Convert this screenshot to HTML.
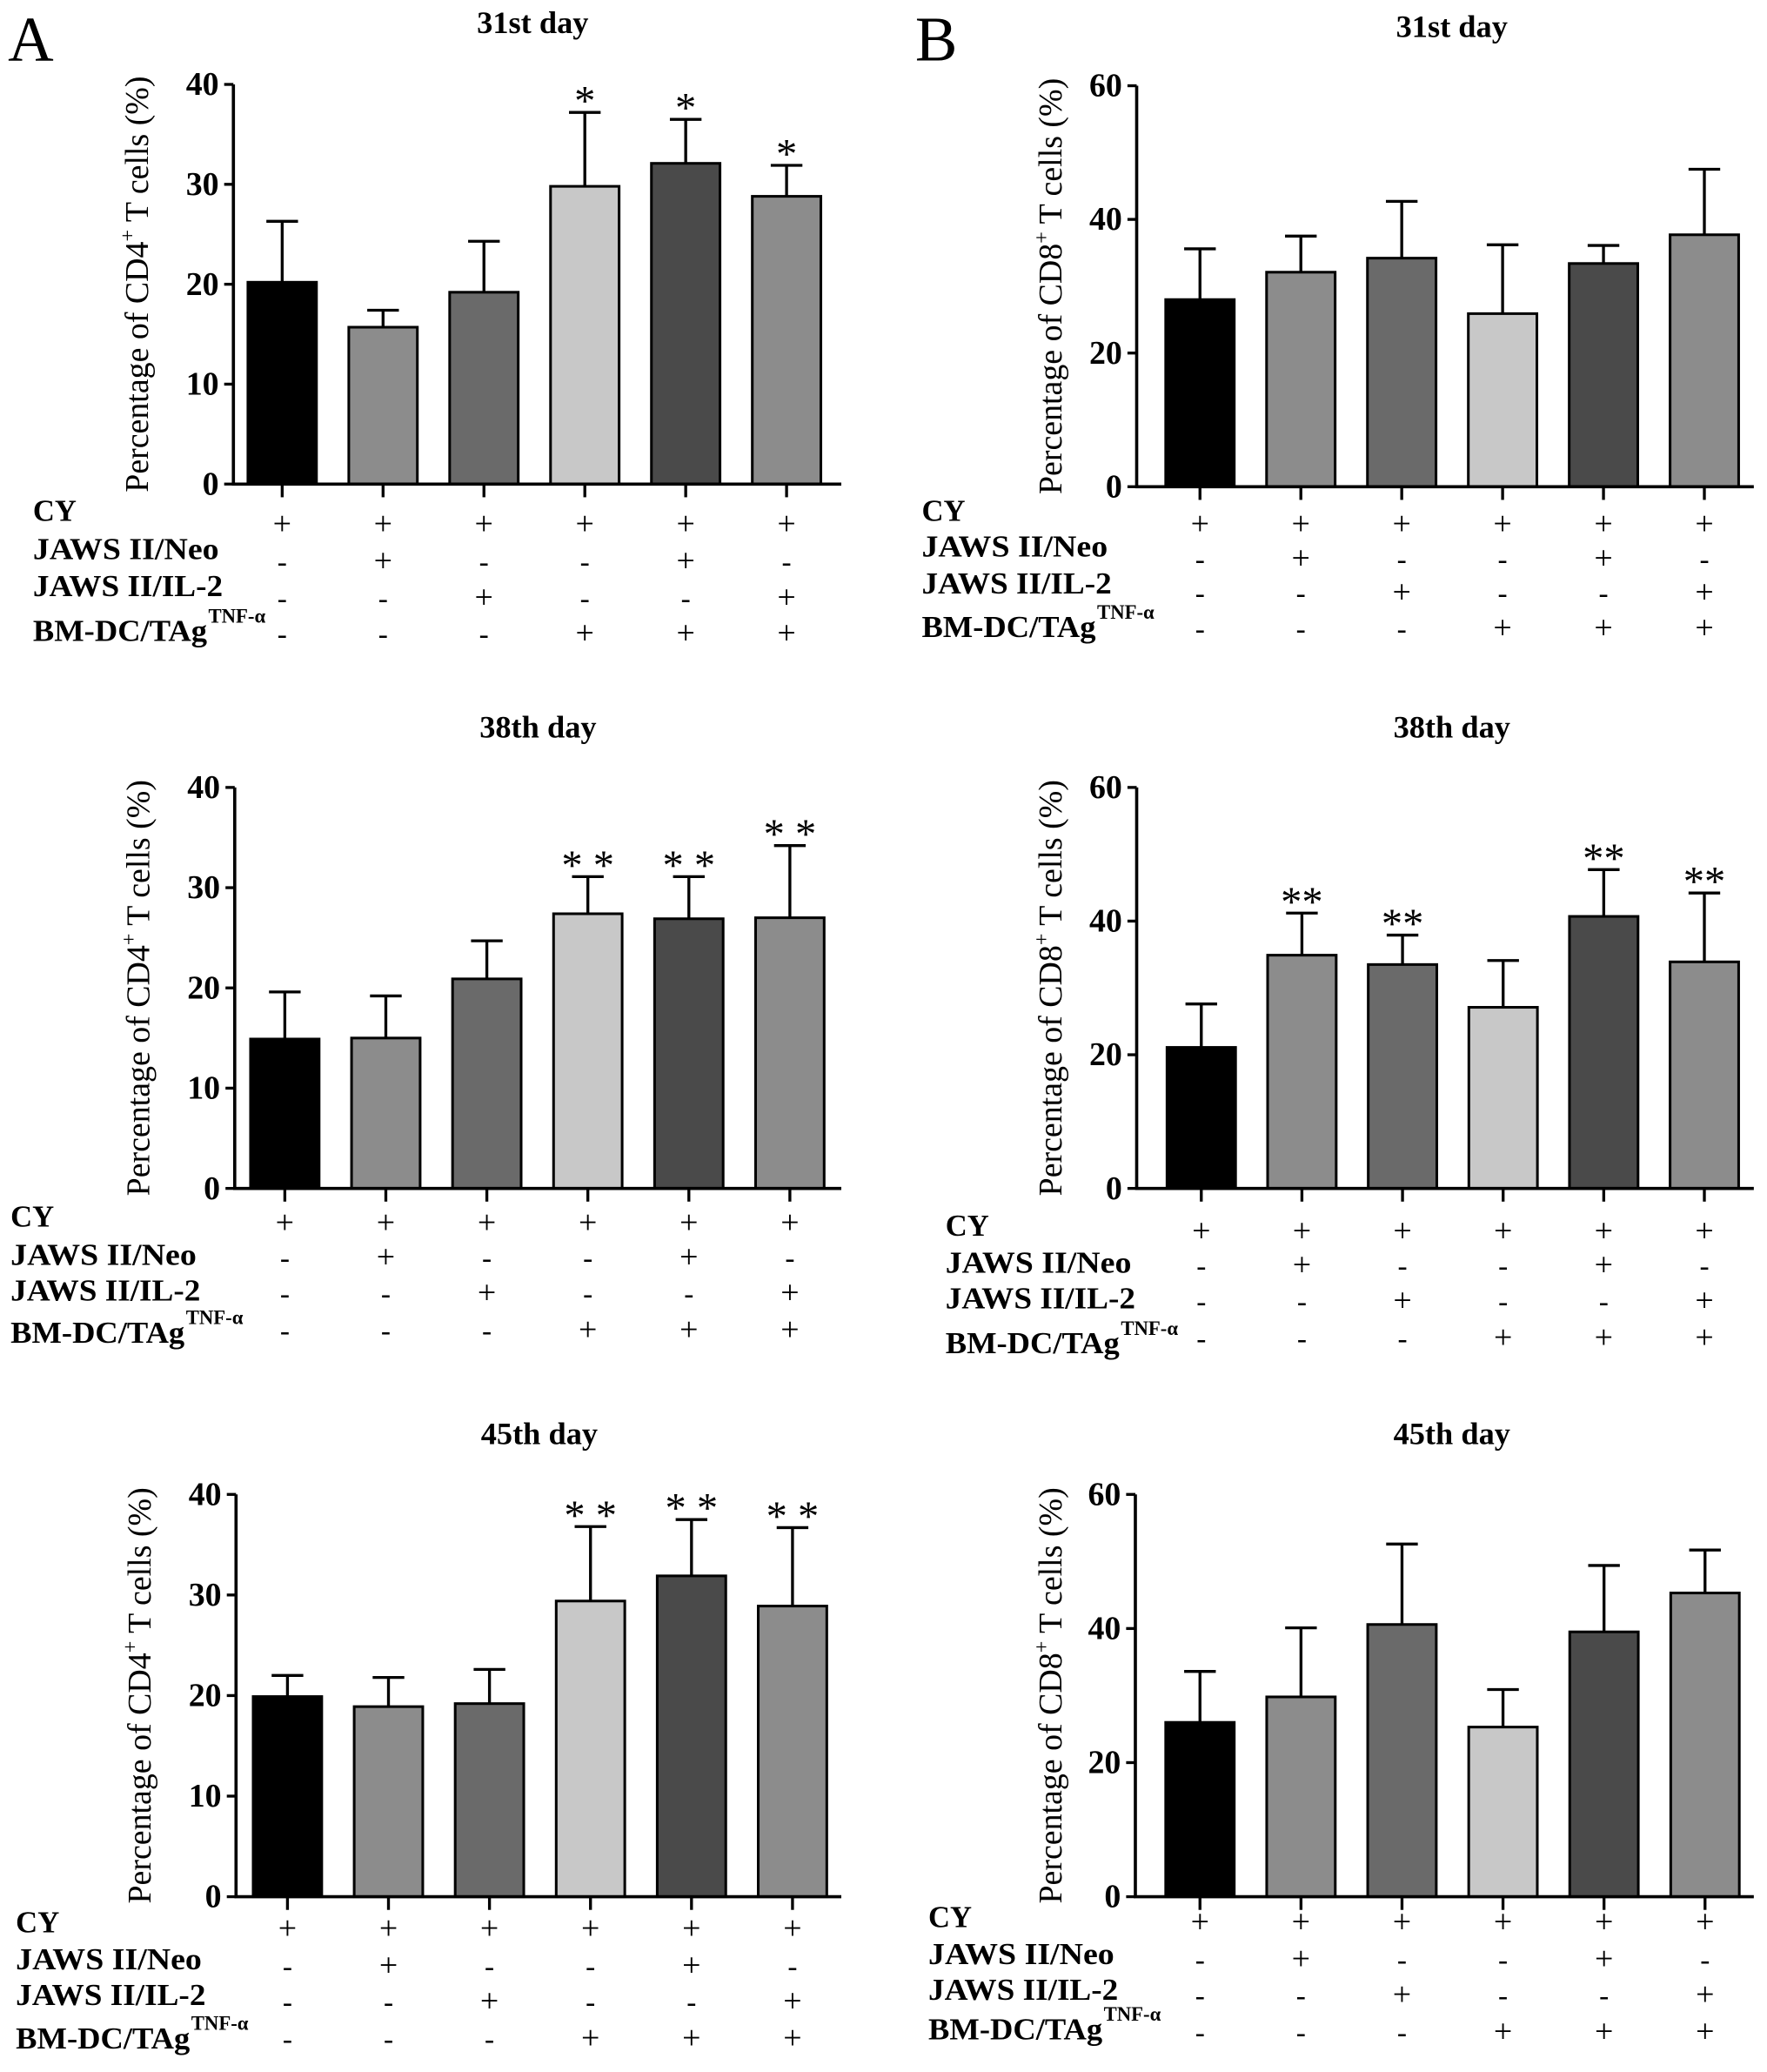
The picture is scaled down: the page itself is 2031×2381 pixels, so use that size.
<!DOCTYPE html>
<html><head><meta charset="utf-8"><style>
html,body{margin:0;padding:0;background:#fff;}
svg, svg text{font-family:"Liberation Serif","DejaVu Serif",serif;}
</style></head><body>
<svg id="fig" width="2031" height="2376" viewBox="0 0 1340 1567.6" preserveAspectRatio="none" xmlns="http://www.w3.org/2000/svg">
<rect width="1340" height="1568" fill="#fff"/>
<text x="6" y="46" font-size="48">A</text>
<text x="694" y="46" font-size="48">B</text>
</svg>
<script>
const groups = ["G1","G2","G3","G4","G5","G6"];
const cy  = ["+","+","+","+","+","+"];
const neo = ["-","+","-","-","+","-"];
const il2 = ["-","-","+","-","-","+"];
const bm  = ["-","-","-","+","+","+"];
const a1Mean = [20.2,15.7,19.2,29.8,32.1,28.8];
const a1Top  = [26.3,17.4,24.3,37.2,36.5,31.9];
const a1Sig  = ["","","","*","*","*"];
const a2Mean = [14.9,15.0,20.9,27.4,26.9,27.0];
const a2Top  = [19.6,19.2,24.7,31.1,31.1,34.2];
const a2Sig  = ["","","","* *","* *","* *"];
const a3Mean = [19.9,18.9,19.2,29.4,31.9,28.9];
const a3Top  = [22.0,21.8,22.6,36.8,37.5,36.7];
const a3Sig  = ["","","","* *","* *","* *"];
const b1Mean = [28.0,32.1,34.2,25.9,33.4,37.7];
const b1Top  = [35.6,37.5,42.7,36.2,36.1,47.5];
const b1Sig  = ["","","","","",""];
const b2Mean = [21.1,34.9,33.5,27.1,40.7,33.9];
const b2Top  = [27.6,41.2,37.9,34.1,47.7,44.2];
const b2Sig  = ["","**","**","","**","**"];
const b3Mean = [26.0,29.8,40.6,25.3,39.5,45.3];
const b3Top  = [33.6,40.1,52.6,30.9,49.4,51.7];
const b3Sig  = ["","","","","",""];
const cd4Ticks = [0,10,20,30,40];
const cd8Ticks = [0,20,40,60];
const fills = ["#000000","#8c8c8c","#6a6a6a","#c8c8c8","#4a4a4a","#8c8c8c"];

const svg = document.getElementById('fig');
const NS = "http://www.w3.org/2000/svg";
function mk(tag, attrs, parent){const e=document.createElementNS(NS,tag);for(const k in attrs)e.setAttribute(k,attrs[k]);(parent||svg).appendChild(e);return e;}

const panels = [
 {id:"a1",title:"31st day",tx:404,ty:25,ax:177,top:64,bot:367,right:638,c0:214,step:76.5,max:40,ticks:cd4Ticks,mean:a1Mean,topv:a1Top,sig:a1Sig,cd:"4",ytx:104,lx:25,lab:[394,423,451,485],rows:[397,425,453,480]},
 {id:"a2",title:"38th day",tx:408,ty:559,ax:178,top:597,bot:901,right:638,c0:216,step:76.6,max:40,ticks:cd4Ticks,mean:a2Mean,topv:a2Top,sig:a2Sig,cd:"4",ytx:105,lx:8,lab:[929,958,985,1017],rows:[927,953,980,1008]},
 {id:"a3",title:"45th day",tx:409,ty:1095,ax:179,top:1133,bot:1438,right:638,c0:218,step:76.6,max:40,ticks:cd4Ticks,mean:a3Mean,topv:a3Top,sig:a3Sig,cd:"4",ytx:106,lx:12,lab:[1464,1492,1519,1552],rows:[1462,1490,1517,1545]},
 {id:"b1",title:"31st day",tx:1101,ty:28,ax:862,top:65,bot:369,right:1330,c0:910,step:76.5,max:60,ticks:cd8Ticks,mean:b1Mean,topv:b1Top,sig:b1Sig,cd:"8",ytx:797,lx:699,lab:[394,421,449,482],rows:[397,423,449,476]},
 {id:"b2",title:"38th day",tx:1101,ty:559,ax:862,top:597,bot:901,right:1330,c0:911,step:76.3,max:60,ticks:cd8Ticks,mean:b2Mean,topv:b2Top,sig:b2Sig,cd:"8",ytx:797,lx:717,lab:[936,964,991,1025],rows:[933,959,986,1014]},
 {id:"b3",title:"45th day",tx:1101,ty:1095,ax:861,top:1133,bot:1438,right:1330,c0:910,step:76.6,max:60,ticks:cd8Ticks,mean:b3Mean,topv:b3Top,sig:b3Sig,cd:"8",ytx:797,lx:704,lab:[1460,1488,1515,1545],rows:[1457,1485,1512,1540]}
];

panels.forEach(p=>{
  const g = mk('g',{});
  
  
  const y = v => p.bot - (v/p.max)*(p.bot-p.top);
  const x = i => p.c0 + i*p.step;
  const t = mk('text',{x:p.tx,y:p.ty,'text-anchor':'middle','font-size':24,'font-weight':'bold'},g);
  t.textContent = p.title;
  
  
  p.mean.forEach((m,i)=>{
    const bw=52;
    const eb = mk('path',{d:`M${x(i)} ${y(m)} V${y(p.topv[i])} M${x(i)-12} ${y(p.topv[i])} H${x(i)+12}`,stroke:'#000','stroke-width':2.2,fill:'none'},g);
    
    
    const r = mk('rect',{x:x(i)-bw/2,y:y(m),width:bw,height:p.bot-y(m),fill:fills[i],stroke:'#000','stroke-width':2},g);
    
    
    if(p.sig[i]){
      const s = mk('text',{x:x(i),y:y(p.topv[i])+2,'text-anchor':'middle','font-size':32},g);
      s.textContent = p.sig[i];
      
      
    }
  });
  const ya = mk('path',{d:`M${p.ax} ${p.top} V${p.bot} H${p.right}`,stroke:'#000','stroke-width':2.4,fill:'none'},g);
  
  
  p.ticks.forEach(v=>{
    mk('line',{x1:p.ax-7,x2:p.ax,y1:y(v),y2:y(v),stroke:'#000','stroke-width':2.2},g);
    const tl = mk('text',{x:p.ax-11,y:y(v)+8,'text-anchor':'end','font-size':25,'font-weight':'bold'},g);
    tl.textContent = v;
    
    
  });
  groups.forEach((_,i)=>{
    mk('line',{x1:x(i),x2:x(i),y1:p.bot,y2:p.bot+10,stroke:'#000','stroke-width':2.2},g);
  });
  const yc = (p.top+p.bot)/2;
  const yt = mk('text',{x:0,y:0,'text-anchor':'middle','font-size':25,transform:`translate(${p.ytx+8},${yc}) rotate(-90)`},g);
  yt.innerHTML = `Percentage of CD${p.cd}<tspan dy="-10" font-size="16">+</tspan><tspan dy="10"> T cells (%)</tspan>`;
  
  
  const names = ["CY","JAWS II/Neo","JAWS II/IL-2","BM-DC/TAg"];
  const lens = [33,141,144,132];
  const rowsData = [cy,neo,il2,bm];
  names.forEach((n,r)=>{
    const lt = mk('text',{x:p.lx,y:p.lab[r]+1,'font-size':23,'font-weight':'bold',textLength:lens[r],lengthAdjust:'spacingAndGlyphs'},g);
    lt.textContent = n;
    
    
    if(r===3){
      const sup = mk('text',{x:p.lx+lens[3]+1,y:p.lab[3]-13,'font-size':15,'font-weight':'bold'},g);
      sup.textContent = "TNF-α";
      
      
    }
    rowsData[r].forEach((s,i)=>{
      const st = mk('text',{x:x(i),y:p.rows[r]+8,'text-anchor':'middle','font-size':s==='+'?25:22},g);
      st.textContent = s;
      
      
    });
  });
});
</script>
</body></html>
